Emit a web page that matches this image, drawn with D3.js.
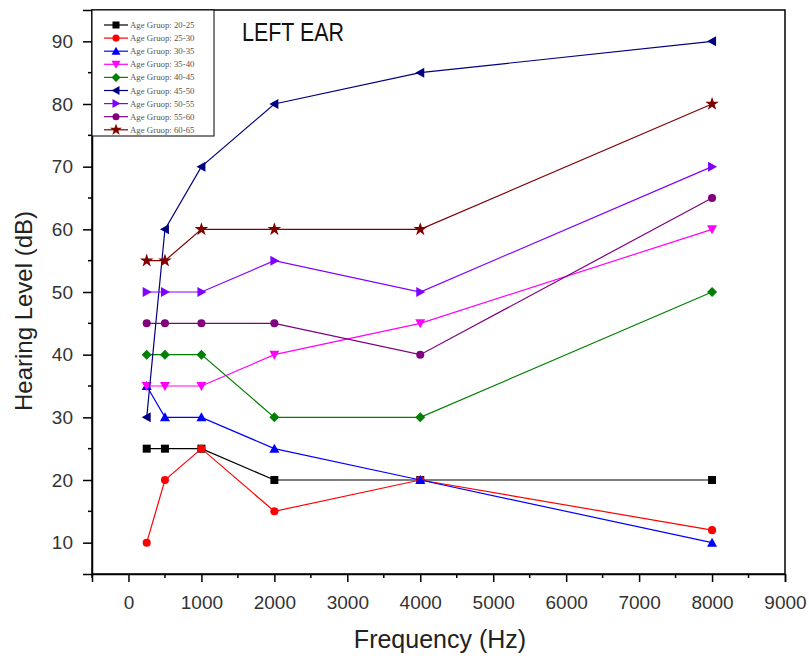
<!DOCTYPE html>
<html>
<head>
<meta charset="utf-8">
<script src="https://cdn.jsdelivr.net/npm/d3@7"></script>
<style>
  body { margin: 0; background: #fff; }
  svg { display: block; }
</style>
</head>
<body>
<svg id="chart" width="809" height="659"></svg>
<script>
// Audiometric thresholds of the left ear, by age group
const frequencies = [250, 500, 1000, 2000, 4000, 8000];
const groupNames = [
  "Age Gruop: 20-25", "Age Gruop: 25-30", "Age Gruop: 30-35",
  "Age Gruop: 35-40", "Age Gruop: 40-45", "Age Gruop: 45-50",
  "Age Gruop: 50-55", "Age Gruop: 55-60", "Age Gruop: 60-65"
];
const age20_25 = [25, 25, 25, 20, 20, 20];
const age25_30 = [10, 20, 25, 15, 20, 12];
const age30_35 = [35, 30, 30, 25, 20, 10];
const age35_40 = [35, 35, 35, 40, 45, 60];
const age40_45 = [40, 40, 40, 30, 30, 50];
const age45_50 = [30, 60, 70, 80, 85, 90];
const age50_55 = [50, 50, 50, 55, 50, 70];
const age55_60 = [45, 45, 45, 45, 40, 65];
const age60_65 = [55, 55, 60, 60, 60, 80];
const xTicks = [0, 1000, 2000, 3000, 4000, 5000, 6000, 7000, 8000, 9000];
const yTicks = [10, 20, 30, 40, 50, 60, 70, 80, 90];

const seriesValues = [age20_25, age25_30, age30_35, age35_40, age40_45,
                      age45_50, age50_55, age55_60, age60_65];
const colors = ["#000000", "#ff0000", "#0000ff", "#ff00ff", "#008000",
                "#000080", "#8000ff", "#800080", "#800000"];
const shapes = ["square", "circle", "up", "down", "diamond",
                "left", "right", "circle", "star"];

const svg = d3.select("#chart");
const plotL = 92, plotR = 785, plotT = 10, plotB = 574;
const sansFont = "Liberation Sans, Arial, sans-serif";

const x = d3.scaleLinear().domain([-500, 9000]).range([plotL, plotR]);
const y = d3.scaleLinear().domain([5, 95]).range([plotB, plotT]);

// marker path generator
function markerPath(shape, s) {
  const h = s / 2;
  switch (shape) {
    case "square": return `M${-h},${-h}H${h}V${h}H${-h}Z`;
    case "circle": return d3.symbol(d3.symbolCircle, s * s * 0.8)();
    case "up": return `M0,${-h - 1}L${h + 1},${h}L${-h - 1},${h}Z`;
    case "down": return `M0,${h + 1}L${h + 1},${-h}L${-h - 1},${-h}Z`;
    case "left": return `M${-h - 1},0L${h},${-h - 1}L${h},${h + 1}Z`;
    case "right": return `M${h + 1},0L${-h},${-h - 1}L${-h},${h + 1}Z`;
    case "diamond": return `M0,${-h - 1}L${h + 1},0L0,${h + 1}L${-h - 1},0Z`;
    case "star": return d3.symbol(d3.symbolStar, s * s * 0.9)();
  }
}

// frame
svg.append("rect")
  .attr("x", plotL).attr("y", plotT)
  .attr("width", plotR - plotL).attr("height", plotB - plotT)
  .attr("fill", "none").attr("stroke", "#000").attr("stroke-width", 1.5);

// x axis
const xAxis = d3.axisBottom(x).tickValues(xTicks).tickSize(8).tickPadding(14)
  .tickFormat(d3.format("d"));
const gx = svg.append("g").attr("transform", `translate(0,${plotB})`).call(xAxis);
const xMinor = d3.range(-500, 9000, 1000);
gx.selectAll(".minor").data(xMinor).join("line")
  .attr("class", "minor")
  .attr("x1", d => x(d)).attr("x2", d => x(d))
  .attr("y1", 0).attr("y2", 4).attr("stroke", "#000").attr("stroke-width", 1.5);

// y axis
const yAxis = d3.axisLeft(y).tickValues(yTicks).tickSize(9).tickPadding(10);
const gy = svg.append("g").attr("transform", `translate(${plotL},0)`).call(yAxis);
const yMinor = d3.range(15, 95, 10);
gy.selectAll(".minor").data(yMinor).join("line")
  .attr("class", "minor")
  .attr("x1", 0).attr("x2", -4)
  .attr("y1", d => y(d)).attr("y2", d => y(d)).attr("stroke", "#000").attr("stroke-width", 1.5);

[gx, gy].forEach(g => {
  g.select(".domain").attr("stroke-width", 1.5);
  g.selectAll(".tick line").attr("stroke-width", 1.5);
  g.selectAll(".tick text").attr("font-family", sansFont)
    .attr("font-size", 19).attr("fill", "#333");
});

// axis titles
svg.append("text")
  .attr("x", 440).attr("y", 648)
  .attr("text-anchor", "middle")
  .attr("font-family", sansFont).attr("font-size", 25)
  .attr("fill", "#222")
  .text("Frequency (Hz)");
svg.append("text")
  .attr("transform", `translate(32,311) rotate(-90)`)
  .attr("text-anchor", "middle")
  .attr("font-family", sansFont).attr("font-size", 24)
  .attr("fill", "#222")
  .text("Hearing Level (dB)");

// chart title inside the frame
svg.append("text")
  .attr("x", 242).attr("y", 41)
  .attr("font-family", sansFont).attr("font-size", 25)
  .attr("textLength", 102).attr("lengthAdjust", "spacingAndGlyphs")
  .attr("fill", "#111")
  .text("LEFT EAR");

// series lines and markers
const line = d3.line().x((d, i) => x(frequencies[i])).y(d => y(d));
seriesValues.forEach((vals, k) => {
  const g = svg.append("g");
  g.append("path").datum(vals)
    .attr("d", line).attr("fill", "none")
    .attr("stroke", colors[k]).attr("stroke-width", 1.2);
  g.selectAll("path.m").data(vals).join("path")
    .attr("class", "m")
    .attr("transform", (d, i) => `translate(${x(frequencies[i])},${y(d)})`)
    .attr("d", markerPath(shapes[k], 8))
    .attr("fill", colors[k]);
});

// legend
const lg = svg.append("g");
lg.append("rect").attr("x", plotL).attr("y", plotT)
  .attr("width", 122).attr("height", 126)
  .attr("fill", "#fff").attr("stroke", "#000").attr("stroke-width", 1);
groupNames.forEach((name, k) => {
  const cy = 25 + k * 13.1;
  lg.append("line").attr("x1", 104).attr("x2", 128).attr("y1", cy).attr("y2", cy)
    .attr("stroke", colors[k]).attr("stroke-width", 1.2);
  lg.append("path").attr("transform", `translate(116,${cy})`)
    .attr("d", markerPath(shapes[k], 7)).attr("fill", colors[k]);
  lg.append("text").attr("x", 130).attr("y", cy + 3)
    .attr("font-family", "Liberation Serif, Times New Roman, serif")
    .attr("font-size", 8.8).attr("fill", "#555")
    .text(name);
});
</script>
</body>
</html>
